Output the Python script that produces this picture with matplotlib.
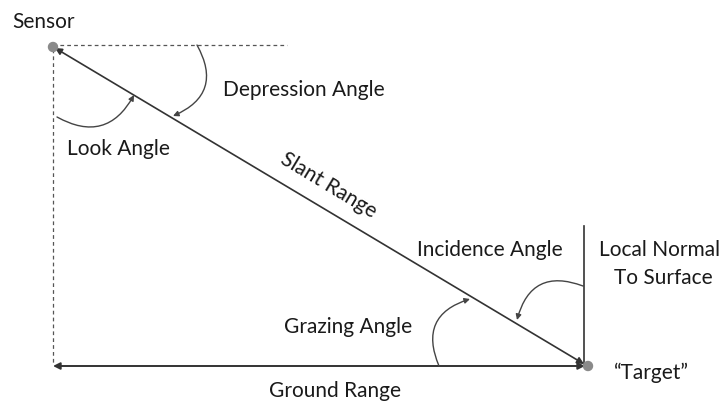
import matplotlib
matplotlib.use("Agg")
import matplotlib.pyplot as plt
from matplotlib.patches import FancyArrowPatch, Circle

# ---- diagram content (pixel coordinates of a 724x402 canvas) ----
sensor = (53, 48)
target = (588, 367)

labels = ["Sensor", "Depression Angle", "Look Angle", "Slant Range",
          "Incidence Angle", "Local Normal", "To Surface",
          "Grazing Angle", "\u201cTarget\u201d", "Ground Range"]
label_pos = [(44, 22), (304, 90), (118, 149), (329, 185),
             (490, 250), (660, 250), (663, 278),
             (348, 327), (651, 373), (335, 391)]
label_rot = [0, 0, 0, -31, 0, 0, 0, 0, 0, 0]

# angle arcs: (start, end, curvature)
arcs = [((57, 118), (134, 96), 0.5),      # look angle
        ((197, 46), (173, 117), -0.55),   # depression angle
        ((583, 287), (517, 321), 0.55),   # incidence angle
        ((439, 367), (470, 300), -0.55)]  # grazing angle

W, H = 724, 402
fig = plt.figure(figsize=(W / 100, H / 100), dpi=100)
ax = fig.add_axes([0, 0, 1, 1])
ax.set_xlim(0, W)
ax.set_ylim(H, 0)
ax.axis("off")

line_c = "#333333"
text_c = "#1a1a1a"
plt.rcParams['font.family'] = ['Lato', 'DejaVu Sans']

# dashed reference lines
ax.plot([sensor[0], 287], [46, 46], ls=(0, (3, 2.5)), color="#555555", lw=0.9)
ax.plot([sensor[0], sensor[0]], [50, 364], ls=(0, (3, 2.5)), color="#555555", lw=0.9)

# local normal
ax.plot([584, 584], [227, 367], color=line_c, lw=1.2)

# slant range
ax.add_patch(FancyArrowPatch((55, 49), (584, 365), arrowstyle="<|-|>",
                             mutation_scale=10, color=line_c, lw=1.2,
                             shrinkA=0, shrinkB=0))
# ground range
ax.add_patch(FancyArrowPatch((53, 367), (585, 367), arrowstyle="<|-|>",
                             mutation_scale=10, color=line_c, lw=1.4,
                             shrinkA=0, shrinkB=0))

for (a, b, rad) in arcs:
    ax.add_patch(FancyArrowPatch(a, b, arrowstyle="-|>", mutation_scale=8,
                                 connectionstyle=f"arc3,rad={rad}",
                                 color="#444444", lw=1.0, shrinkA=0, shrinkB=0))

# sensor / target dots
for p in (sensor, target):
    ax.add_patch(Circle(p, 4.5, color="#8a8a8a", zorder=5))

for t, (x, y), r in zip(labels, label_pos, label_rot):
    ax.text(x, y, t, ha="center", va="center", fontsize=15, color=text_c,
            rotation=r, rotation_mode="anchor")

fig.savefig("out.png", dpi=100)
